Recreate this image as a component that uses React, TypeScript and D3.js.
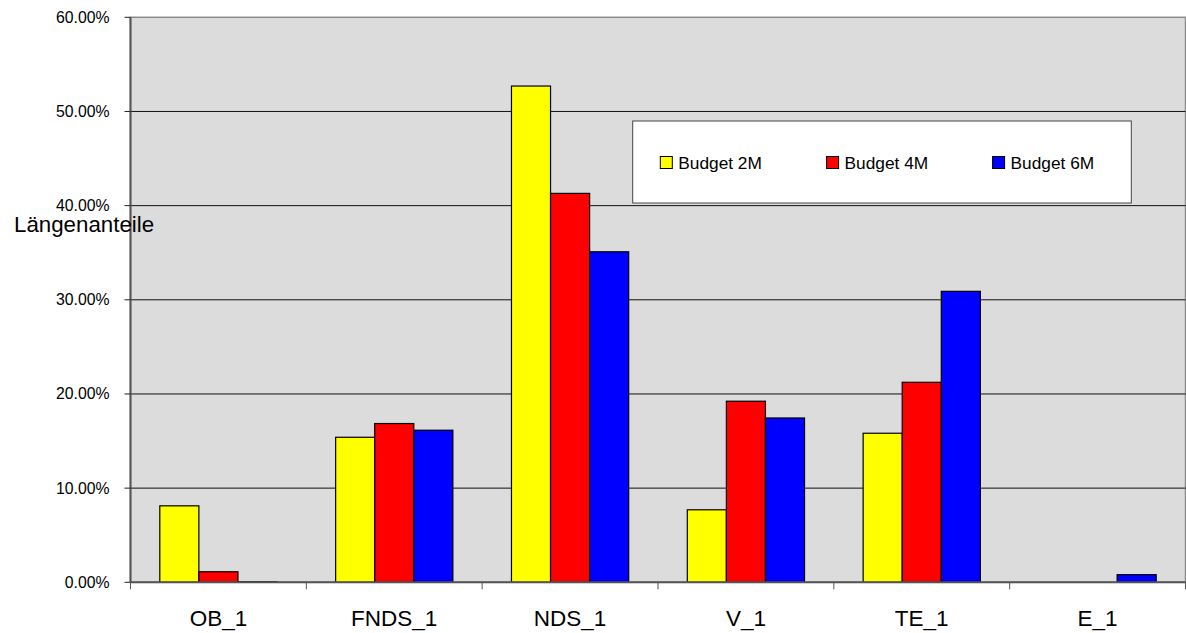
import React from "react";
import * as d3 from "d3";

const categories = ["OB_1", "FNDS_1", "NDS_1", "V_1", "TE_1", "E_1"];
const seriesNames = ["Budget 2M", "Budget 4M", "Budget 6M"];
const seriesColors = ["#ffff00", "#ff0000", "#0000ff"];
const budget2M = [0.0812, 0.154, 0.527, 0.077, 0.1583, 0];
const budget4M = [0.0112, 0.1686, 0.413, 0.1923, 0.2124, 0];
const budget6M = [0.0006, 0.1615, 0.351, 0.1745, 0.309, 0.0081];
const yTicks = [0, 0.1, 0.2, 0.3, 0.4, 0.5, 0.6];
const yAxisTitle = "Längenanteile";

const W = 1186;
const H = 633;
const plot = { left: 130.5, right: 1185.5, top: 17.3, bottom: 582.3 };
const FONT = "'Liberation Sans', Arial, sans-serif";

export default function App() {
  const seriesValues = [budget2M, budget4M, budget6M];
  const x = d3
    .scaleBand<string>()
    .domain(categories)
    .range([plot.left, plot.right])
    .paddingInner(0)
    .paddingOuter(0);
  const xs = d3
    .scaleBand<string>()
    .domain(seriesNames)
    .range([0, x.bandwidth()])
    .paddingInner(0)
    .paddingOuter(0.75);
  const y = d3.scaleLinear().domain([0, 0.6]).range([plot.bottom, plot.top]);
  const fmt = d3.format(".2%");

  const boundaries = categories.map((c) => x(c) as number).concat([plot.right]);

  // legend layout
  const legend = { x: 632.7, y: 121, w: 498.6, h: 82 };
  const legendItemX = [660.3, 826.6, 992.6];

  return (
    <svg
      width={W}
      height={H}
      style={{ position: "absolute", left: 0, top: 0, background: "#fff" }}
      fontFamily={FONT}
    >
      {/* plot area */}
      <rect
        x={plot.left}
        y={plot.top}
        width={plot.right - plot.left}
        height={plot.bottom - plot.top}
        fill="#dcdcdc"
        stroke="#8c8c8c"
        strokeWidth={1.5}
      />
      {/* gridlines */}
      {yTicks.slice(1, -1).map((t) => (
        <line
          key={"g" + t}
          x1={plot.left}
          x2={plot.right}
          y1={y(t)}
          y2={y(t)}
          stroke="#111"
          strokeWidth={1}
        />
      ))}
      {/* bars */}
      {categories.map((c, i) => (
        <g key={c} transform={`translate(${x(c)},0)`}>
          {seriesNames.map((s, j) => {
            const v = seriesValues[j][i];
            if (v <= 0) return null;
            const top = y(v);
            return (
              <rect
                key={s}
                x={xs(s)}
                y={top}
                width={xs.bandwidth()}
                height={Math.max(plot.bottom - top, 0.5)}
                fill={seriesColors[j]}
                stroke="#000"
                strokeWidth={1.2}
              />
            );
          })}
        </g>
      ))}
      {/* y axis */}
      <line x1={plot.left} x2={plot.left} y1={plot.top} y2={plot.bottom} stroke="#555" strokeWidth={2} />
      {yTicks.map((t) => (
        <g key={"t" + t}>
          <line x1={plot.left - 6} x2={plot.left} y1={y(t)} y2={y(t)} stroke="#222" strokeWidth={1} />
          <text
            x={109.5}
            y={y(t)}
            textAnchor="end"
            dominantBaseline="central"
            fontSize={15.8}
            fill="#000"
          >
            {fmt(t)}
          </text>
        </g>
      ))}
      {/* x axis */}
      <line x1={plot.left} x2={plot.right} y1={plot.bottom} y2={plot.bottom} stroke="#555" strokeWidth={2} />
      {boundaries.map((b, i) => (
        <line key={"xt" + i} x1={b} x2={b} y1={plot.bottom} y2={plot.bottom + 7} stroke="#555" strokeWidth={1} />
      ))}
      {categories.map((c) => (
        <text
          key={"l" + c}
          x={(x(c) as number) + x.bandwidth() / 2}
          y={626}
          textAnchor="middle"
          fontSize={22.5}
          fill="#000"
        >
          {c}
        </text>
      ))}
      {/* axis title */}
      <text x={14} y={232.3} fontSize={22.3} fill="#000">
        {yAxisTitle}
      </text>
      {/* legend */}
      <rect x={legend.x} y={legend.y} width={legend.w} height={legend.h} fill="#fff" stroke="#444" strokeWidth={1} />
      {seriesNames.map((s, j) => (
        <g key={"lg" + s}>
          <rect x={legendItemX[j]} y={156.5} width={12} height={12} fill={seriesColors[j]} stroke="#000" strokeWidth={1} />
          <text x={legendItemX[j] + 18} y={168.5} fontSize={17.3} fill="#000">
            {s}
          </text>
        </g>
      ))}
    </svg>
  );
}
